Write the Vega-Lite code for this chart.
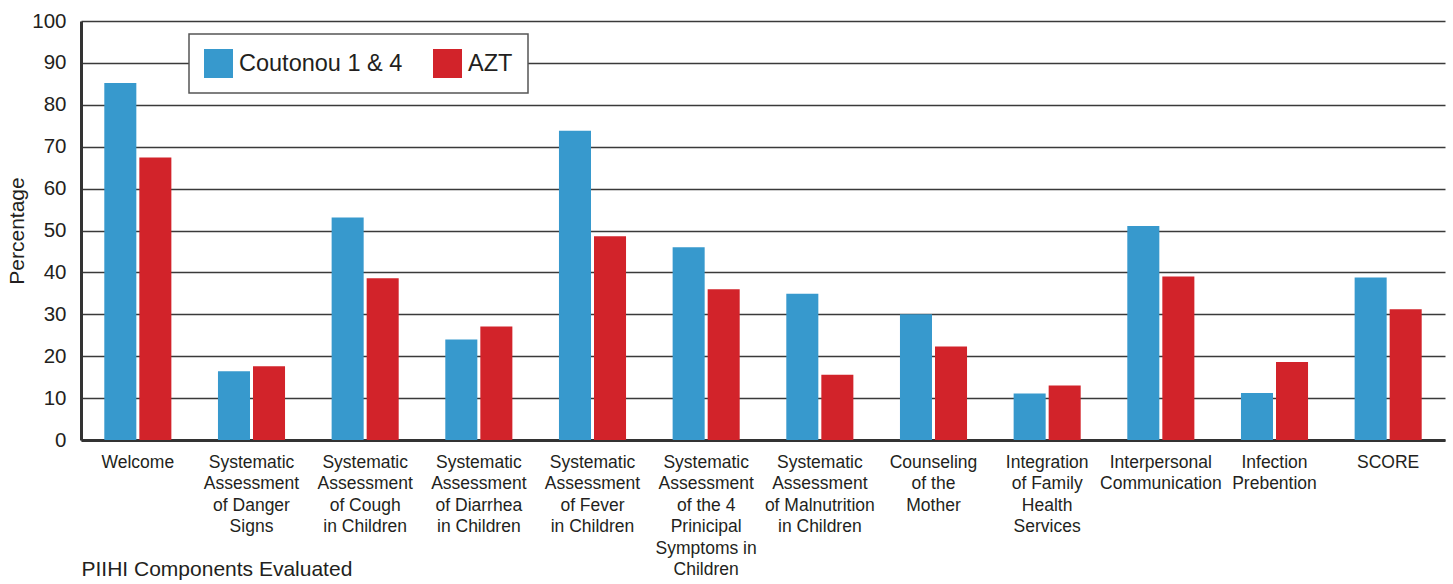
{
  "$schema": "https://vega.github.io/schema/vega-lite/v6.json",
  "width": 1364,
  "height": 419,
  "autosize": {"type": "none"},
  "padding": {"left": 81, "top": 21, "right": 8, "bottom": 144},
  "background": "white",
  "data": {
    "values": [
      {"component": "Welcome", "site": "Coutonou 1 & 4", "percentage": 85.2},
      {"component": "Welcome", "site": "AZT", "percentage": 67.4},
      {"component": "Systematic Assessment of Danger Signs", "site": "Coutonou 1 & 4", "percentage": 16.4},
      {"component": "Systematic Assessment of Danger Signs", "site": "AZT", "percentage": 17.6},
      {"component": "Systematic Assessment of Cough in Children", "site": "Coutonou 1 & 4", "percentage": 53.1},
      {"component": "Systematic Assessment of Cough in Children", "site": "AZT", "percentage": 38.6},
      {"component": "Systematic Assessment of Diarrhea in Children", "site": "Coutonou 1 & 4", "percentage": 24.0},
      {"component": "Systematic Assessment of Diarrhea in Children", "site": "AZT", "percentage": 27.1},
      {"component": "Systematic Assessment of Fever in Children", "site": "Coutonou 1 & 4", "percentage": 73.8},
      {"component": "Systematic Assessment of Fever in Children", "site": "AZT", "percentage": 48.6},
      {"component": "Systematic Assessment of the 4 Prinicipal Symptoms in Children", "site": "Coutonou 1 & 4", "percentage": 46.0},
      {"component": "Systematic Assessment of the 4 Prinicipal Symptoms in Children", "site": "AZT", "percentage": 36.0},
      {"component": "Systematic Assessment of Malnutrition in Children", "site": "Coutonou 1 & 4", "percentage": 34.9},
      {"component": "Systematic Assessment of Malnutrition in Children", "site": "AZT", "percentage": 15.6},
      {"component": "Counseling of the Mother", "site": "Coutonou 1 & 4", "percentage": 30.0},
      {"component": "Counseling of the Mother", "site": "AZT", "percentage": 22.3},
      {"component": "Integration of Family Health Services", "site": "Coutonou 1 & 4", "percentage": 11.1},
      {"component": "Integration of Family Health Services", "site": "AZT", "percentage": 13.0},
      {"component": "Interpersonal Communication", "site": "Coutonou 1 & 4", "percentage": 51.1},
      {"component": "Interpersonal Communication", "site": "AZT", "percentage": 39.0},
      {"component": "Infection Prebention", "site": "Coutonou 1 & 4", "percentage": 11.2},
      {"component": "Infection Prebention", "site": "AZT", "percentage": 18.6},
      {"component": "SCORE", "site": "Coutonou 1 & 4", "percentage": 38.8},
      {"component": "SCORE", "site": "AZT", "percentage": 31.2}
    ]
  },
  "mark": {"type": "bar"},
  "encoding": {
    "x": {
      "field": "component",
      "type": "nominal",
      "sort": null,
      "scale": {"paddingInner": 0.41, "paddingOuter": 0.205},
      "axis": {
        "title": "PIIHI Components Evaluated",
        "titleFont": "Liberation Sans",
        "titleFontSize": 21,
        "titleFontWeight": "normal",
        "titleColor": "#231f20",
        "titleAnchor": "start",
        "titleAlign": "left",
        "titleBaseline": "alphabetic",
        "titleX": 0,
        "titleY": 135,
        "labelAngle": 0,
        "labelFont": "Liberation Sans",
        "labelFontSize": 17.5,
        "labelColor": "#231f20",
        "labelLineHeight": 21.5,
        "labelBaseline": "top",
        "labelPadding": 13,
        "labelLimit": 0,
        "labelExpr": "{'Welcome':['Welcome'],'Systematic Assessment of Danger Signs':['Systematic','Assessment','of Danger','Signs'],'Systematic Assessment of Cough in Children':['Systematic','Assessment','of Cough','in Children'],'Systematic Assessment of Diarrhea in Children':['Systematic','Assessment','of Diarrhea','in Children'],'Systematic Assessment of Fever in Children':['Systematic','Assessment','of Fever','in Children'],'Systematic Assessment of the 4 Prinicipal Symptoms in Children':['Systematic','Assessment','of the 4','Prinicipal','Symptoms in','Children'],'Systematic Assessment of Malnutrition in Children':['Systematic','Assessment','of Malnutrition','in Children'],'Counseling of the Mother':['Counseling','of the','Mother'],'Integration of Family Health Services':['Integration','of Family','Health','Services'],'Interpersonal Communication':['Interpersonal','Communication'],'Infection Prebention':['Infection','Prebention'],'SCORE':['SCORE']}[datum.label]",
        "ticks": false,
        "domain": true,
        "domainColor": "#333333",
        "domainWidth": 3,
        "grid": false
      }
    },
    "xOffset": {
      "field": "site",
      "type": "nominal",
      "sort": ["Coutonou 1 & 4", "AZT"],
      "scale": {"paddingInner": 0.0857, "paddingOuter": 0}
    },
    "y": {
      "field": "percentage",
      "type": "quantitative",
      "scale": {"domain": [0, 100], "nice": false},
      "axis": {
        "title": "Percentage",
        "titleFont": "Liberation Sans",
        "titleFontSize": 21,
        "titleFontWeight": "normal",
        "titleColor": "#231f20",
        "titleX": -58,
        "titleY": 209.5,
        "titleAngle": 270,
        "titleAlign": "center",
        "titleBaseline": "alphabetic",
        "values": [0, 10, 20, 30, 40, 50, 60, 70, 80, 90, 100],
        "labelFont": "Liberation Sans",
        "labelFontSize": 20.5,
        "labelColor": "#231f20",
        "labelPadding": 15,
        "ticks": false,
        "domain": true,
        "domainColor": "#333333",
        "domainWidth": 3,
        "grid": true,
        "gridColor": "#3a3a3a",
        "gridWidth": 1.7
      }
    },
    "color": {
      "field": "site",
      "type": "nominal",
      "scale": {"domain": ["Coutonou 1 & 4", "AZT"], "range": ["#3799cd", "#d2232a"]},
      "legend": {
        "title": null,
        "orient": "none",
        "legendX": 108,
        "legendY": 13,
        "direction": "horizontal",
        "columns": 2,
        "symbolType": "square",
        "symbolSize": 841,
        "symbolStrokeWidth": 0,
        "labelFont": "Liberation Sans",
        "labelFontSize": 23.5,
        "labelColor": "#231f20",
        "labelOffset": 6,
        "labelLimit": 0,
        "columnPadding": 30,
        "padding": 15,
        "strokeColor": "#555555",
        "fillColor": "white",
        "encode": {"legend": {"update": {"strokeWidth": {"value": 1.5}}}}
      }
    }
  },
  "config": {
    "view": {"stroke": null}
  }
}
